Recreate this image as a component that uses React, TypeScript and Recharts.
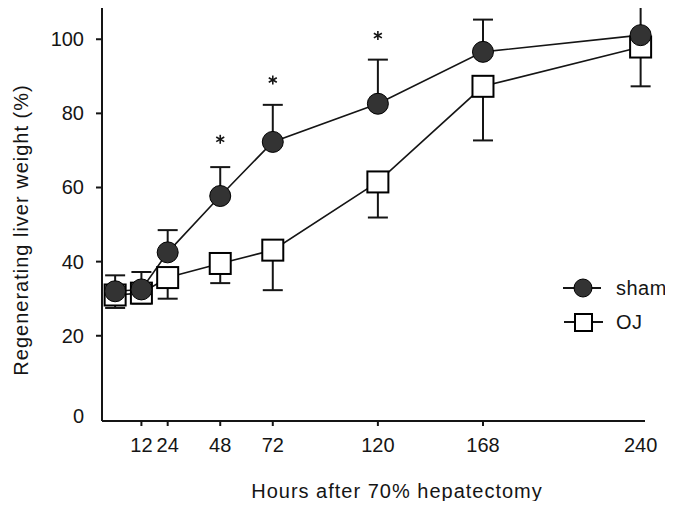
import {
  ComposedChart,
  Line,
  ErrorBar,
  Scatter,
  XAxis,
  YAxis,
  Legend,
} from 'recharts';

// hours after hepatectomy
const hours = [0, 12, 24, 48, 72, 120, 168, 240];
// regenerating liver weight (%), mean and one-sided SD
const shamMean = [32, 32.5, 42.5, 57.7, 72.3, 82.6, 96.6, 101.1];
const shamSd = [4.3, 4.7, 6, 7.8, 10, 11.9, 8.7, 7.6];
const ojMean = [31, 31.5, 35.7, 39.5, 43.1, 61.5, 87.3, 97.9];
const ojSd = [3.5, 2.8, 5.7, 5.3, 10.8, 9.6, 14.6, 10.6];
// significance marks (*)
const starHours = [48, 72, 120];
const starLevels = [73, 89, 101];

const xTicks = [12, 24, 48, 72, 120, 168, 240];
const yTicks = [0, 20, 40, 60, 80, 100];

const rows = hours.map((hour, i) => ({
  hour,
  sham: shamMean[i],
  shamErr: [0, shamSd[i]],
  oj: ojMean[i],
  ojErr: [ojSd[i], 0],
}));
const stars = starHours.map((hour, i) => ({ hour, star: starLevels[i] }));

const FONT = '"Liberation Sans", Arial, Helvetica, sans-serif';
const INK = '#151515';

const XTick = ({ x, y, payload }: any) => (
  <g>
    {payload.value !== 240 && (
      <line x1={x} x2={x} y1={y - 17} y2={y - 12} stroke={INK} strokeWidth={2} />
    )}
    <text x={x} y={y} dy="0.71em" textAnchor="middle" fontSize={20} fill={INK}>
      {payload.value}
    </text>
  </g>
);

const YTick = ({ x, y, payload }: any) => (
  <g>
    {payload.value !== 0 && (
      <line x1={x + 12} x2={x + 18} y1={y} y2={y} stroke={INK} strokeWidth={2} />
    )}
    <text
      x={x}
      y={payload.value === 0 ? y + 6 : y}
      dy="0.35em"
      textAnchor="end"
      fontSize={20}
      fill={INK}
    >
      {payload.value}
    </text>
  </g>
);

const XTitle = () => (
  <text x={397} y={498} textAnchor="middle" fontSize={20} letterSpacing={1} fill={INK}>
    Hours after 70% hepatectomy
  </text>
);

const YTitle = () => (
  <text
    transform="translate(21,230) rotate(-90)"
    textAnchor="middle"
    dominantBaseline="central"
    fontSize={20}
    letterSpacing={1}
    fill={INK}
  >
    Regenerating liver weight (%)
  </text>
);

const renderCircle = (p: any) => (
  <circle
    key={`c-${p.index}`}
    cx={p.cx}
    cy={p.cy}
    r={10.5}
    fill="#333"
    stroke="#000"
    strokeWidth={1}
  />
);

const renderSquare = (p: any) => (
  <rect
    key={`s-${p.index}`}
    x={p.cx - 10.5}
    y={p.cy - 10.5}
    width={21}
    height={21}
    fill="#fff"
    stroke="#000"
    strokeWidth={2}
  />
);

const Star = ({ cx, cy }: any) => (
  <g stroke={INK} strokeWidth={1.6}>
    <line x1={cx} x2={cx} y1={cy - 4.5} y2={cy + 4.5} />
    <line x1={cx - 4} x2={cx + 4} y1={cy - 2.3} y2={cy + 2.3} />
    <line x1={cx - 4} x2={cx + 4} y1={cy + 2.3} y2={cy - 2.3} />
  </g>
);

const LegendBox = () => (
  <svg width={115} height={72} style={{ display: 'block', overflow: 'visible' }}>
    <line x1={5} x2={43} y1={20} y2={20} stroke={INK} strokeWidth={2} />
    <circle cx={25} cy={20} r={9} fill="#333" stroke="#000" />
    <text x={58} y={20} dominantBaseline="central" fontSize={20} letterSpacing={0.5} fill={INK}>
      sham
    </text>
    <line x1={6} x2={45} y1={54} y2={54} stroke={INK} strokeWidth={2} />
    <rect x={17} y={46} width={17} height={17} fill="#fff" stroke="#000" strokeWidth={2} />
    <text x={58} y={54} dominantBaseline="central" fontSize={20} letterSpacing={0.5} fill={INK}>
      OJ
    </text>
  </svg>
);

export default function App() {
  return (
    <div style={{ margin: -8, fontFamily: FONT, background: '#fff' }}>
      <ComposedChart
        width={673}
        height={509}
        data={rows}
        margin={{ top: 7, right: 28, bottom: 8, left: 0 }}
      >
        <XAxis
          dataKey="hour"
          type="number"
          domain={[-6, 242]}
          ticks={xTicks}
          interval={0}
          tick={<XTick />}
          tickLine={false}
          tickSize={5}
          tickMargin={12}
          axisLine={{ stroke: INK, strokeWidth: 2 }}
          height={80}
          label={{ content: <XTitle /> }}
        />
        <YAxis
          type="number"
          domain={[-3, 108.7]}
          ticks={yTicks}
          interval={0}
          tick={<YTick />}
          tickLine={false}
          tickSize={6}
          tickMargin={12}
          axisLine={{ stroke: INK, strokeWidth: 2 }}
          width={102}
          label={{ content: <YTitle /> }}
        />
        <Line
          dataKey="oj"
          stroke={INK}
          strokeWidth={1.6}
          dot={renderSquare}
          activeDot={false}
          isAnimationActive={false}
        >
          <ErrorBar dataKey="ojErr" width={10} stroke={INK} strokeWidth={2} direction="y" />
        </Line>
        <Line
          dataKey="sham"
          stroke={INK}
          strokeWidth={1.6}
          dot={renderCircle}
          activeDot={false}
          isAnimationActive={false}
        >
          <ErrorBar dataKey="shamErr" width={10} stroke={INK} strokeWidth={2} direction="y" />
        </Line>
        <Scatter
          data={stars}
          dataKey="star"
          shape={<Star />}
          legendType="none"
          isAnimationActive={false}
        />
        <Legend
          layout="horizontal"
          verticalAlign="middle"
          align="center"
          content={<LegendBox />}
          wrapperStyle={{ left: 558, top: 268, width: 115, height: 72 }}
        />
      </ComposedChart>
    </div>
  );
}
